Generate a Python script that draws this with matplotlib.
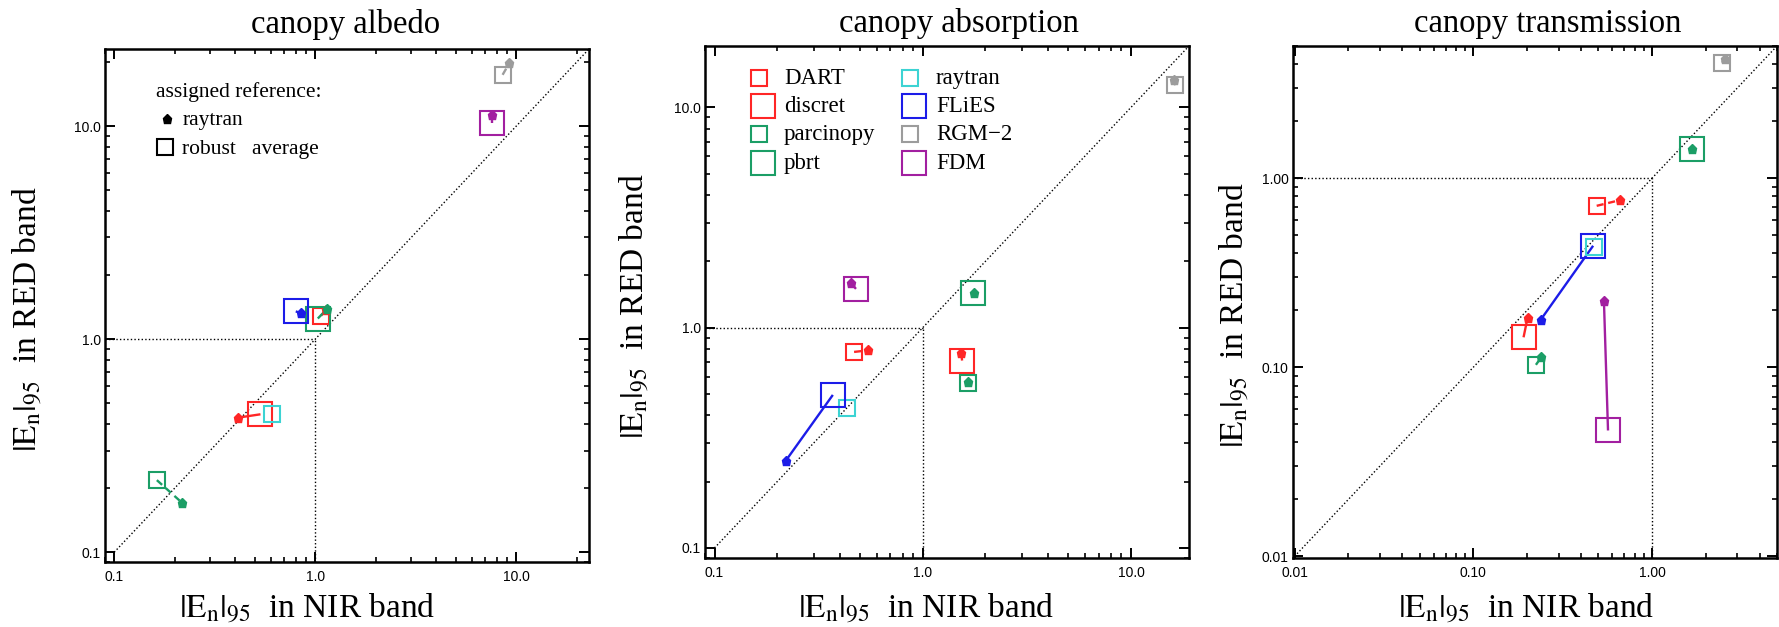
import numpy as np
import matplotlib
matplotlib.use("Agg")
import matplotlib.pyplot as plt
from matplotlib.ticker import FixedLocator, FixedFormatter, LogLocator, NullFormatter

plt.rcParams["font.family"] = ["Liberation Serif", "DejaVu Serif"]
plt.rcParams["mathtext.fontset"] = "stix"

# ---------------------------------------------------------------- data
models = ["DART", "discret", "parcinopy", "pbrt", "raytran", "FLiES", "RGM\u22122", "FDM"]
colors = ["#ff2626", "#ff2626", "#1b9e66", "#1b9e66", "#3cd3d3", "#1c1ce8", "#9c9c9c", "#a21fa0"]
large_box = [False, True, False, True, False, True, False, True]

nan = np.nan

# canopy albedo: |En|95 w.r.t. robust average (box) and raytran (dot)
albedo_avg_nir = [1.07, 0.534, 0.163, 1.03, 0.612, 0.80, 8.55, 7.56]
albedo_avg_red = [1.29, 0.444, 0.218, 1.25, 0.444, 1.35, 17.4, 10.3]
albedo_ray_nir = [1.13, 0.411, 0.217, 1.14, nan, 0.85, 9.25, 7.56]
albedo_ray_red = [1.37, 0.428, 0.171, 1.38, nan, 1.325, 19.8, 11.3]

# canopy absorption
absorp_avg_nir = [0.468, 1.545, 1.645, 1.75, 0.435, 0.370, 16.3, 0.478]
absorp_avg_red = [0.776, 0.709, 0.560, 1.44, 0.430, 0.495, 12.6, 1.50]
absorp_ray_nir = [0.548, 1.53, 1.65, 1.76, nan, 0.220, 16.1, 0.45]
absorp_ray_red = [0.789, 0.77, 0.565, 1.44, nan, 0.249, 13.3, 1.60]

# canopy transmission
transm_avg_nir = [0.49, 0.191, 0.224, 1.67, 0.472, 0.468, 2.46, 0.567]
transm_avg_red = [0.714, 0.144, 0.103, 1.42, 0.430, 0.439, 4.08, 0.0463]
transm_ray_nir = [0.66, 0.201, 0.240, 1.67, nan, 0.238, 2.57, 0.538]
transm_ray_red = [0.765, 0.182, 0.113, 1.43, nan, 0.178, 4.25, 0.223]

titles = ["canopy albedo", "canopy absorption", "canopy transmission"]
limits = [(0.09, 23.0), (0.09, 19.0), (0.0098, 5.0)]
major_ticks = [[0.1, 1.0, 10.0], [0.1, 1.0, 10.0], [0.01, 0.1, 1.0]]
major_labels = [["0.1", "1.0", "10.0"], ["0.1", "1.0", "10.0"], ["0.01", "0.10", "1.00"]]

# ---------------------------------------------------------------- layout
W, H = 1779, 627
fig = plt.figure(figsize=(W / 100, H / 100), dpi=100)

boxes_px = [(105, 49, 589, 562), (705, 46, 1189, 558), (1293, 46, 1777, 558)]
axes = []
for (l, t, r, b) in boxes_px:
    axes.append(fig.add_axes([l / W, 1 - b / H, (r - l) / W, (b - t) / H]))

data = [
    (albedo_avg_nir, albedo_avg_red, albedo_ray_nir, albedo_ray_red),
    (absorp_avg_nir, absorp_avg_red, absorp_ray_nir, absorp_ray_red),
    (transm_avg_nir, transm_avg_red, transm_ray_nir, transm_ray_red),
]

title_pos = [(0.496, 1.031), (0.525, 1.027), (0.527, 1.027)]
xlabel_pos = [(0.418, -0.109), (0.457, -0.117), (0.481, -0.117)]
ylabel_pos = [(-0.160, 0.474), (-0.146, 0.492), (-0.120, 0.475)]

SMALL_MS, LARGE_MS = 11, 17
dot_style = (0, (1, 1.6))

for k, ax in enumerate(axes):
    lo, hi = limits[k]
    ax.set_xscale("log")
    ax.set_yscale("log")
    ax.set_xlim(lo, hi)
    ax.set_ylim(lo, hi)

    # reference lines: 1:1 diagonal and the unit cross-hair
    start = major_ticks[k][0]
    ax.plot([start, hi], [start, hi], color="black", lw=1.0, ls=dot_style, zorder=1)
    ax.plot([lo, 1.0], [1.0, 1.0], color="black", lw=1.0, ls=dot_style, zorder=1)
    ax.plot([1.0, 1.0], [lo, 1.0], color="black", lw=1.0, ls=dot_style, zorder=1)

    avg_x, avg_y, ray_x, ray_y = data[k]
    for i, name in enumerate(models):
        c = colors[i]
        big = large_box[i]
        if not np.isnan(ray_x[i]):
            ax.plot([avg_x[i], ray_x[i]], [avg_y[i], ray_y[i]], color=c, lw=1.7,
                    ls="-" if big else (0, (3, 2)), zorder=3, solid_capstyle="butt")
        ax.plot(avg_x[i], avg_y[i], marker="s", ms=LARGE_MS if big else SMALL_MS,
                mfc="none", mec=c, mew=1.5, ls="none", zorder=4)
        if not np.isnan(ray_x[i]):
            ax.plot(ray_x[i], ray_y[i], marker="p", ms=6.5, color=c, mec=c,
                    ls="none", zorder=5)

    # axes styling
    for sp in ax.spines.values():
        sp.set_linewidth(1.8)
    ax.xaxis.set_major_locator(FixedLocator(major_ticks[k]))
    ax.xaxis.set_major_formatter(FixedFormatter(major_labels[k]))
    ax.yaxis.set_major_locator(FixedLocator(major_ticks[k]))
    ax.yaxis.set_major_formatter(FixedFormatter(major_labels[k]))
    ax.xaxis.set_minor_locator(LogLocator(base=10, subs=np.arange(2, 10), numticks=20))
    ax.yaxis.set_minor_locator(LogLocator(base=10, subs=np.arange(2, 10), numticks=20))
    ax.xaxis.set_minor_formatter(NullFormatter())
    ax.yaxis.set_minor_formatter(NullFormatter())
    ax.tick_params(which="both", direction="in", top=True, right=True,
                   labelfontfamily="Liberation Sans", labelsize=10)
    ax.tick_params(which="major", length=7.5, width=1.4)
    ax.tick_params(which="minor", length=3.8, width=1.2)
    ax.tick_params(axis="x", which="major", pad=6)
    ax.tick_params(axis="y", which="major", pad=3)

    ax.text(*title_pos[k], titles[k], transform=ax.transAxes, ha="center",
            va="baseline", fontsize=23.5)
    ax.text(*xlabel_pos[k], r"$|\mathrm{E}_{\mathrm{n}}|_{95}$  in NIR band",
            transform=ax.transAxes, ha="center", va="baseline", fontsize=24)
    ax.text(*ylabel_pos[k], r"$|\mathrm{E}_{\mathrm{n}}|_{95}$  in RED band",
            transform=ax.transAxes, ha="center", va="center", rotation=90, fontsize=24)

# key for the reference types (left panel)
ax = axes[0]
ax.text(0.105, 0.906, "assigned reference:", transform=ax.transAxes, fontsize=15.5,
        va="baseline", ha="left")
ax.plot(0.128, 0.8635, marker="p", ms=6.5, color="black", transform=ax.transAxes,
        clip_on=False)
ax.text(0.160, 0.852, "raytran", transform=ax.transAxes, fontsize=15.5, va="baseline")
ax.plot(0.123, 0.809, marker="s", ms=SMALL_MS, mfc="none", mec="black", mew=1.5,
        transform=ax.transAxes, clip_on=False)
ax.text(0.160, 0.795, "robust   average", transform=ax.transAxes, fontsize=15.5,
        va="baseline")

# model key (middle panel)
ax = axes[1]
row_y = [0.938, 0.883, 0.828, 0.772]
col_box_left = [0.095, 0.406]
col_text_x = [0.163, 0.477]
for i, name in enumerate(models):
    col, row = divmod(i, 4)
    half = (25 if large_box[i] else 16.5) / 2 / 484
    bx = col_box_left[col] + half
    ax.plot(bx, row_y[row], marker="s", ms=LARGE_MS if large_box[i] else SMALL_MS,
            mfc="none", mec=colors[i], mew=1.5, transform=ax.transAxes, clip_on=False)
    ax.text(col_text_x[col], row_y[row] - 0.012, name, transform=ax.transAxes,
            fontsize=16.5, va="baseline", ha="left")

fig.savefig("out.png", dpi=100)
